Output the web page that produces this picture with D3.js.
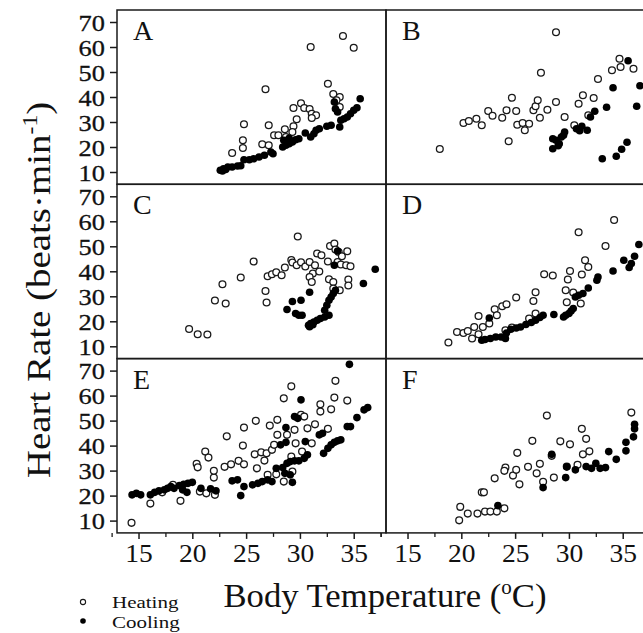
<!DOCTYPE html>
<html><head><meta charset="utf-8">
<script src="https://cdn.jsdelivr.net/npm/d3@7"></script>
<style>body{margin:0;background:#fff}svg{display:block}text{font-family:"Liberation Serif","DejaVu Serif",serif;fill:#111}</style>
</head><body>
<svg id="c" width="643" height="633"></svg>
<script>
// ---- data: [body temperature (°C), heart rate (beats/min)] ----
const aHeating = [[34.0,64.4],[31.0,60],[35.0,59.7],[26.8,43.1],[32.6,45.3],[33.1,41.2],[33.7,40],[33.4,38.7],[33.7,36],[29.4,35.6],[30.1,37.5],[30.4,35.6],[30.9,35.2],[31.1,33.3],[31.5,32.7],[31.1,31.6],[29.7,31.1],[29.4,28.3],[28.6,27.1],[24.8,29.1],[27.1,28.7],[27.6,24.7],[28.0,24.7],[28.7,24],[29.3,26],[24.7,22.7],[24.7,19.6],[26.5,21.1],[27.1,20.7],[23.7,17.6]];
const aCooling = [[22.6,10.7],[22.9,11.3],[23.3,12],[23.7,12],[24.2,12.4],[24.5,12.5],[22.8,10.4],[23.1,11],[24.8,14.9],[25.3,14.9],[25.7,15.3],[26.2,16],[26.7,16.7],[27.3,18],[27.5,17.3],[28.4,20],[28.7,20.7],[29.0,21.3],[29.3,22],[29.6,22.9],[29.9,23.3],[28.5,22.7],[29.0,23.5],[30.5,25.6],[31.0,24],[31.3,25.3],[31.5,26.7],[31.8,27.3],[32.5,28.3],[32.9,28.7],[33.2,38],[33.3,35.3],[33.5,34],[33.7,28],[33.8,30.7],[34.1,31.3],[34.4,32],[34.7,33.3],[35.0,34.7],[35.3,35.7],[35.6,39.3]];
const bHeating = [[18.0,19.2],[20.2,29.6],[20.7,30.4],[21.4,31.3],[21.9,28.7],[22.5,34.4],[22.9,32.5],[23.8,31.7],[24.2,34.7],[24.7,39.7],[25.1,34.4],[24.4,22.3],[25.2,28.9],[25.7,29.6],[25.9,26.7],[26.3,29.3],[26.7,34.7],[26.9,36.3],[27.1,38.7],[27.3,31.7],[27.4,49.7],[28.0,34.9],[28.8,65.9],[28.8,38],[29.6,32],[30.5,28.7],[30.9,37.3],[31.3,40.7],[31.8,32.7],[32.3,39.6],[32.7,47.2],[34.0,50.7],[34.7,55.3],[34.8,52],[36.0,51.3]];
const bCooling = [[28.5,19.3],[28.5,23.3],[28.8,22.7],[29.1,21.3],[29.5,24.7],[29.6,26],[29.3,24],[29.0,20.5],[30.7,27.3],[31.2,28.3],[31.7,26.7],[31.0,26.5],[32.0,32],[32.4,34.3],[33.1,15.3],[33.5,35.9],[34.1,43.7],[34.4,16.3],[34.9,19.1],[35.4,21.9],[35.5,54.5],[36.3,36.3],[36.6,44.5]];
const cHeating = [[19.7,16.9],[20.5,14.8],[21.4,14.7],[22.1,28.3],[22.8,34.8],[23.1,27.1],[24.5,37.5],[25.7,43.9],[26.8,32.1],[26.9,27.5],[27.0,38],[27.4,38.8],[27.8,39.6],[28.3,38.4],[28.6,41.5],[29.2,44.5],[29.3,43.5],[29.8,53.9],[29.7,42.4],[30.1,43.6],[30.5,41.9],[30.9,43.7],[31.2,39.1],[30.9,37.7],[31.1,35.7],[31.4,42.4],[31.8,39.9],[31.6,47.1],[32.0,46.4],[32.6,43.9],[32.8,50.1],[33.2,51.1],[33.3,48.7],[33.6,47.7],[33.9,46],[34.4,48],[33.5,43.7],[33.8,42.7],[34.3,42.4],[34.7,42],[32.7,36.8],[33.1,35.7],[33.1,33.1],[33.7,32.4],[34.5,36.7],[34.5,34.3]];
const cCooling = [[28.8,24.7],[29.3,27.9],[30.1,28.4],[30.9,31.6],[29.6,23.1],[29.9,22.4],[30.2,22.4],[30.8,18.4],[31.0,19.1],[31.3,19.7],[31.6,20.4],[31.9,21.1],[32.3,21.7],[32.7,22.4],[30.9,17.8],[31.2,18.6],[32.3,24.4],[32.5,26.4],[32.7,28.4],[32.9,29.7],[33.1,31.1],[33.3,32.4],[33.2,42.4],[33.5,48.1],[35.9,35.1],[37.0,40.8]];
const dHeating = [[18.8,11.5],[19.6,15.7],[20.2,15.3],[20.6,16.1],[21.2,17.7],[21.0,13.1],[21.6,22.1],[22.0,17.7],[22.6,19.1],[21.6,14.8],[23.1,24.8],[23.3,22.4],[23.8,26],[24.2,26.8],[25.1,29.5],[24.1,16.4],[24.7,17.5],[26.3,21.1],[26.7,28.1],[26.9,31.6],[26.9,23.1],[27.7,38.8],[28.5,38.3],[29.7,32.4],[29.8,27.6],[29.9,36.7],[30.1,40.1],[30.4,31.5],[30.9,55.6],[31.1,27.1],[31.2,38.7],[31.5,44.4],[31.8,41.7],[33.4,50.1],[34.2,60.5]];
const dCooling = [[22.6,21.3],[21.9,12.4],[22.2,12.7],[22.7,13.1],[23.2,13.7],[23.7,13.7],[24.1,13.1],[24.2,15.3],[24.6,16.8],[25.1,17.3],[25.5,17.7],[26.0,18.7],[26.5,19.5],[26.9,20.4],[27.3,21.5],[27.6,22.4],[28.6,22.7],[29.5,21.7],[29.7,22.4],[30.0,23.1],[30.2,24.1],[30.4,25.1],[30.6,29.7],[30.9,30.4],[31.3,31.1],[31.8,33.3],[32.6,36.4],[32.7,37.7],[34.1,40.1],[35.1,44.4],[35.6,41.5],[35.8,43.1],[36.1,46],[36.5,50.7]];
const eHeating = [[14.35,9.1],[16.1,16.8],[18.9,17.9],[17.2,21.3],[18.2,24.3],[20.7,21.6],[21.3,20.9],[22.1,20.3],[20.4,32.7],[20.5,31.3],[21.2,37.6],[21.5,35.2],[22.0,27.2],[22.0,29.9],[23.2,43.7],[23.0,31.5],[23.6,32.5],[24.3,33.9],[24.8,32.5],[24.7,40],[24.8,47.2],[25.8,36.5],[25.9,49.9],[26.0,30.9],[26.4,37.3],[26.7,34],[26.9,36.9],[27.2,48],[27.4,38.3],[27.6,40.3],[27.9,50.3],[27.9,44.3],[27.8,28.5],[28.5,58.9],[28.8,44.3],[28.5,25.6],[29.2,63.7],[29.5,46.3],[29.2,35.6],[29.6,40.9],[30.1,52.3],[30.2,37.6],[30.4,51.6],[30.7,46.9],[31.1,40.9],[31.4,48.5],[31.9,56.5],[31.9,53.6],[32.6,46.7],[32.9,54.5],[33.2,59.2],[33.3,65.9],[34.4,58],[29.3,29.6],[27.0,28.3]];
const eCooling = [[14.4,20.3],[14.8,20.9],[15.2,20.3],[16.1,20.3],[16.5,21.3],[16.9,21.9],[17.4,22.3],[17.7,22.9],[18.0,23.6],[18.3,22.9],[18.8,24],[19.2,24.5],[19.6,24.9],[20.0,25.3],[19.1,22.3],[19.5,21.3],[20.8,22.9],[21.7,22.7],[22.2,21.9],[23.7,25.9],[24.2,26.3],[24.5,20],[24.8,23.6],[25.6,24.3],[26.1,24.9],[26.5,25.6],[27.0,26.3],[27.4,25.6],[27.8,30.9],[28.4,31.2],[28.8,32.9],[29.1,33.6],[29.5,33.9],[29.9,33.9],[30.4,34.9],[30.7,36.3],[28.6,28.9],[29.1,28.3],[29.3,25.3],[28.2,40.3],[28.7,41.3],[28.7,47.2],[29.5,51.6],[29.8,50.9],[30.1,58.3],[30.5,41.6],[31.8,44.3],[32.1,44.9],[32.2,36.9],[32.6,38.9],[32.9,40.3],[33.2,41.3],[33.5,41.9],[33.8,42.3],[34.4,47.6],[34.7,47.6],[35.3,51.2],[35.96,54.3],[36.3,55.2],[34.6,72.5]];
const fHeating = [[19.8,10.1],[19.9,15.5],[20.6,12.8],[21.5,12.8],[22.2,13.6],[22.7,13.6],[23.3,13.6],[24.0,14.9],[21.9,21.3],[22.1,21.3],[23.1,26.9],[24.1,31.2],[24.0,29.9],[24.8,28],[25.1,30.3],[25.2,37.1],[25.4,24.5],[26.2,31.5],[26.6,41.9],[27.0,28.9],[27.3,32.7],[27.6,25.5],[27.95,52],[28.4,35.9],[28.6,27.2],[29.2,41.7],[29.8,31.6],[30.1,40.5],[30.8,32.3],[31.2,46.7],[31.3,36.5],[31.6,42.7],[31.9,37.7],[35.8,53.2]];
const fCooling = [[23.4,16],[27.6,23.2],[28.4,36.5],[29.7,27.2],[29.8,31.5],[30.6,30.3],[31.6,31.6],[32.1,30.9],[32.5,32.9],[32.9,30.9],[33.4,31.2],[33.7,37.6],[34.4,34.5],[35.3,37.9],[35.3,41.3],[36.0,43.5],[36.1,48.5],[36.1,46.7]];
const panelLetters = ["A","B","C","D","E","F"];
const yTicks = [10,20,30,40,50,60,70];
const xTicks = [15,20,25,30,35];
const xMinor = [12.5,17.5,22.5,27.5,32.5,37.5];
const legendLabels = ["Heating","Cooling"];

const panels = [
  {h:aHeating,c:aCooling},{h:bHeating,c:bCooling},
  {h:cHeating,c:cCooling},{h:dHeating,c:dCooling},
  {h:eHeating,c:eCooling},{h:fHeating,c:fCooling}
];

const svg = d3.select("#c");
const colLeft = [117, 386];
const colW = 269;
const rowTop = 10, rowH = 174.3;
const ink = "#1a1a1a";

panels.forEach((p,i)=>{
  const col = i%2, row = Math.floor(i/2);
  const x0 = colLeft[col], y0 = rowTop + row*rowH;
  const x = d3.scaleLinear().domain([13,38]).range([x0, x0+colW]);
  const y = d3.scaleLinear().domain([5.08,74.8]).range([y0+rowH, y0]);
  const g = svg.append("g");
  g.append("rect").attr("x",x0).attr("y",y0).attr("width",colW).attr("height",rowH)
    .attr("fill","none").attr("stroke",ink).attr("stroke-width",1.5);
  g.append("text").attr("x",x0+16).attr("y",y0+30).attr("font-size",28).text(panelLetters[i]);
  g.selectAll("circle.h").data(p.h).join("circle").attr("class","h")
    .attr("cx",d=>x(d[0])).attr("cy",d=>y(d[1])).attr("r",3.4)
    .attr("fill","#fff").attr("stroke",ink).attr("stroke-width",1.3);
  g.selectAll("circle.c").data(p.c).join("circle").attr("class","c")
    .attr("cx",d=>x(d[0])).attr("cy",d=>y(d[1])).attr("r",3.8)
    .attr("fill","#000");
  if(col===0){
    const ay = g.append("g").attr("transform",`translate(${x0},0)`)
      .call(d3.axisLeft(y).tickValues(yTicks).tickSize(7).tickPadding(4).tickFormat(d3.format("d")));
    ay.select(".domain").remove();
    ay.selectAll("line").attr("stroke",ink).attr("stroke-width",1.5);
    ay.selectAll("text").attr("font-size",24).attr("fill","#111")
      .attr("font-family",'"Liberation Serif",serif').attr("dy","0.34em")
      .attr("stroke","#111").attr("stroke-width",0.3)
      .attr("transform","scale(1.1,1)");
  }
  if(row===2){
    const ax = g.append("g").attr("transform",`translate(0,${y0+rowH})`)
      .call(d3.axisBottom(x).tickValues(xTicks).tickSize(6).tickPadding(5).tickFormat(d3.format("d")));
    ax.select(".domain").remove();
    ax.selectAll("line").attr("stroke",ink).attr("stroke-width",1.5);
    ax.selectAll("text").attr("font-size",25).attr("fill","#111")
      .attr("font-family",'"Liberation Serif",serif')
      .attr("transform","scale(1.1,1)");
    const am = g.append("g").attr("transform",`translate(0,${y0+rowH})`)
      .call(d3.axisBottom(x).tickValues(xMinor).tickSize(4).tickFormat(""));
    am.select(".domain").remove();
    am.selectAll("line").attr("stroke",ink).attr("stroke-width",1.3);
  }
});

// axis titles
const yt = svg.append("text").attr("transform","translate(50,290) rotate(-90) scale(1.18,1)")
  .attr("text-anchor","middle").attr("font-size",33);
yt.append("tspan").text("Heart Rate (beats\u00B7min");
yt.append("tspan").attr("font-size",20).attr("dy",-13).text("-1");
yt.append("tspan").attr("dy",13).text(")");

const xt = svg.append("text").attr("transform","translate(385,607) scale(1.05,1)")
  .attr("text-anchor","middle").attr("font-size",33);
xt.append("tspan").text("Body Temperature (");
xt.append("tspan").attr("font-size",20).attr("dy",-13).text("o");
xt.append("tspan").attr("dy",13).text("C)");

// legend
const lg = svg.append("g");
lg.append("circle").attr("cx",83).attr("cy",602).attr("r",2.6).attr("fill","#fff").attr("stroke",ink).attr("stroke-width",1.1);
lg.append("circle").attr("cx",83).attr("cy",621).attr("r",2.8).attr("fill","#000");
lg.selectAll("text").data(legendLabels).join("text")
  .attr("transform",(d,i)=>`translate(112,${608+i*19.5}) scale(1.2,1)`)
  .attr("font-size",17.5).text(d=>d);
</script>
</body></html>
